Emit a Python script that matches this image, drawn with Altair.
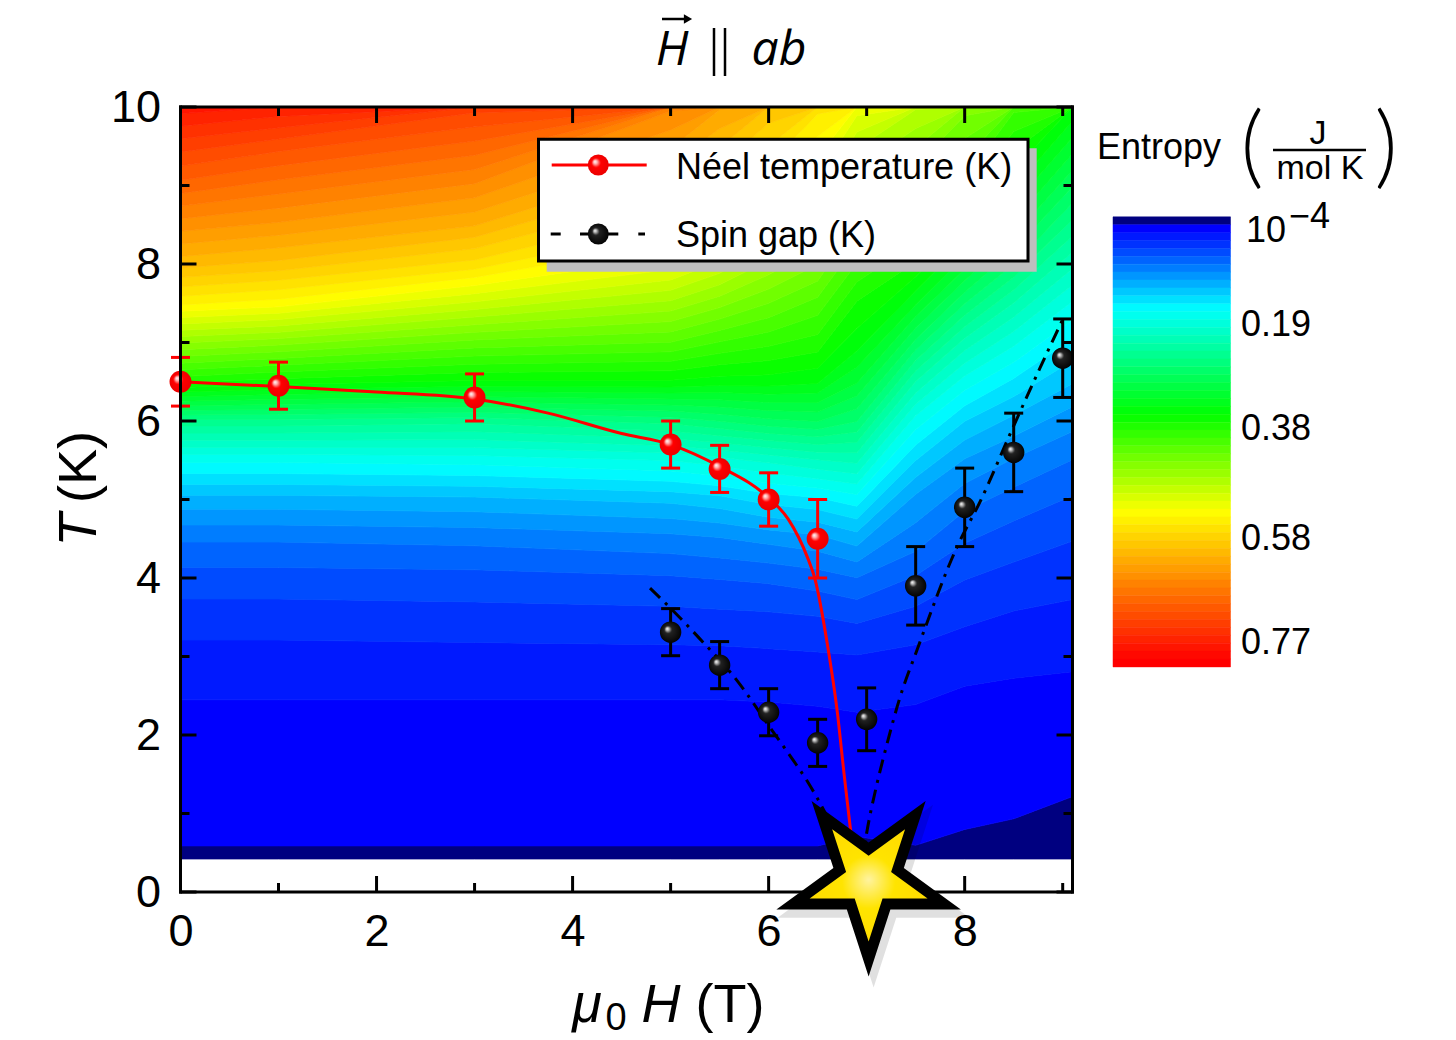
import numpy as np
import pandas as pd
import altair as alt

# ---------------- data ----------------
# Entropy map (J/mol K): one column per field value (T), rows at these temperatures (K)
field_H = [0, 1, 3, 5, 5.5, 6, 6.5, 6.9, 7.5, 8, 8.5, 9.1]
temp_T = [0.42, 0.6, 1.0, 1.5, 2.0, 2.5, 3.0, 3.5, 4.0, 4.5, 5.0,
          5.5, 6.0, 6.5, 7.0, 7.5, 8.0, 8.5, 9.0, 9.5, 10.0]

S_H0 = [0.004, 0.0152, 0.018, 0.0208, 0.0236, 0.0294, 0.0381, 0.0503, 0.066, 0.0883, 0.1241,
        0.1758, 0.2546, 0.3777, 0.4618, 0.551, 0.6107, 0.6555, 0.7003, 0.7402, 0.7851]
S_H1 = [0.004, 0.0152, 0.018, 0.0208, 0.0236, 0.0294, 0.0381, 0.0503, 0.066, 0.0883, 0.1241,
        0.1758, 0.2546, 0.3678, 0.4519, 0.541, 0.6007, 0.6455, 0.6854, 0.7253, 0.7751]
S_H3 = [0.004, 0.0152, 0.018, 0.0208, 0.0236, 0.0294, 0.0386, 0.0515, 0.0671, 0.0906, 0.1263,
        0.1787, 0.2496, 0.3579, 0.4272, 0.5014, 0.5709, 0.6206, 0.6605, 0.7003, 0.7402]
S_H5 = [0.004, 0.0152, 0.018, 0.0208, 0.0236, 0.0294, 0.0392, 0.0526, 0.0705, 0.0961, 0.1331,
        0.1876, 0.2644, 0.3579, 0.4173, 0.4717, 0.5261, 0.566, 0.6007, 0.6356, 0.6655]
S_H55 = [0.004, 0.0152, 0.018, 0.0208, 0.0236, 0.0294, 0.0392, 0.0537, 0.0727, 0.0995, 0.1386,
         0.1955, 0.2742, 0.353, 0.4024, 0.4519, 0.5014, 0.541, 0.5758, 0.6057, 0.6356]
S_H6 = [0.004, 0.0152, 0.018, 0.0208, 0.0241, 0.0297, 0.0403, 0.0548, 0.0749, 0.1051, 0.1498,
        0.2053, 0.2841, 0.353, 0.3926, 0.4321, 0.4717, 0.5113, 0.546, 0.5758, 0.6007]
S_H65 = [0.004, 0.0152, 0.018, 0.0208, 0.0247, 0.0303, 0.0414, 0.0571, 0.0794, 0.1107, 0.1554,
         0.2152, 0.289, 0.3481, 0.3827, 0.4123, 0.4469, 0.4816, 0.5113, 0.541, 0.566]
S_H69 = [0.003, 0.0135, 0.0169, 0.0202, 0.0252, 0.0314, 0.0425, 0.0604, 0.0861, 0.1219, 0.1659,
         0.2201, 0.2742, 0.3186, 0.353, 0.3728, 0.4024, 0.4321, 0.4618, 0.4915, 0.5261]
S_H75 = [0.002, 0.0148, 0.0157, 0.0191, 0.0236, 0.0303, 0.0392, 0.0526, 0.0705, 0.0939, 0.1107,
         0.1442, 0.1807, 0.23, 0.2841, 0.3333, 0.3728, 0.4024, 0.4321, 0.4618, 0.4915]
S_H8 = [0.001, 0.0115, 0.0174, 0.0191, 0.0213, 0.0269, 0.0347, 0.0459, 0.0582, 0.0738, 0.0917,
        0.114, 0.1442, 0.1807, 0.225, 0.2742, 0.3235, 0.3629, 0.3975, 0.4272, 0.4519]
S_H85 = [0.001, 0.008, 0.0157, 0.018, 0.0208, 0.0258, 0.0325, 0.0414, 0.0526, 0.0649, 0.0805,
         0.0995, 0.1252, 0.1554, 0.1905, 0.23, 0.2742, 0.3136, 0.3481, 0.3777, 0.4074]
S_H91 = [0.001, 0.005, 0.0125, 0.0169, 0.0202, 0.0247, 0.0314, 0.0392, 0.0481, 0.0582, 0.0705,
         0.0861, 0.1062, 0.1308, 0.1554, 0.1856, 0.2201, 0.2546, 0.289, 0.3235, 0.3579]
entropy_columns = [S_H0, S_H1, S_H3, S_H5, S_H55, S_H6, S_H65, S_H69, S_H75, S_H8, S_H85, S_H91]

# contour levels and colour map (colour bar)
level_step = 0.0144
n_levels = 57
cmap_stops = [0, 0.0144, 0.161, 0.353, 0.531, 0.80]
cmap_colors = ["#000080", "#0000FF", "#00FFFF", "#00FF00", "#FFFF00", "#FF0000"]
cbar_tick_S = [0.19, 0.38, 0.58, 0.77]
cbar_tick_text = ["0.19", "0.38", "0.58", "0.77"]
cbar_first_S = 0.0001

# Neel temperature
neel_H = [0, 1, 3, 5, 5.5, 6, 6.5]
neel_T = [6.50, 6.45, 6.30, 5.70, 5.39, 5.00, 4.50]
neel_err = [0.31, 0.30, 0.30, 0.30, 0.30, 0.34, 0.50]
neel_fit_H = [0, 1, 2, 3, 3.75, 4.5, 5.0, 5.5, 6.0, 6.2, 6.4, 6.47, 6.6, 6.7, 6.77, 6.83, 6.86]
neel_fit_T = [6.50, 6.44, 6.37, 6.28, 6.10, 5.84, 5.70, 5.42, 5.02, 4.75, 4.25, 4.0, 3.15, 2.3, 1.5, 0.85, 0.55]

# Spin gap
gap_H = [5, 5.5, 6, 6.5, 7, 7.5, 8, 8.5, 9]
gap_T = [3.31, 2.89, 2.29, 1.90, 2.20, 3.90, 4.90, 5.60, 6.80]
gap_err = [0.30, 0.30, 0.30, 0.30, 0.40, 0.50, 0.50, 0.50, 0.50]
gap_left_H = [4.79, 5.02, 5.28, 5.68, 6.04, 6.25, 6.39, 6.58, 6.75]
gap_left_T = [3.87, 3.59, 3.25, 2.69, 2.05, 1.68, 1.42, 1.0, 0.55]
gap_right_H = [6.95, 7.0, 7.1, 7.2, 7.34, 7.51, 7.92, 8.16, 8.49, 8.77, 9.01]
gap_right_T = [0.35, 0.75, 1.35, 1.85, 2.48, 3.07, 4.39, 4.98, 5.91, 6.68, 7.32]

# quantum critical point marker
star_H = [7.02]
star_T = [0.16]

# axis ticks
x_major = [0, 2, 4, 6, 8]
x_minor = [1, 3, 5, 7, 9]
y_major = [0, 2, 4, 6, 8, 10]
y_minor = [1, 3, 5, 7, 9]

# ---------------- build contour bands ----------------
levels = [k * level_step for k in range(n_levels)]


def crossing(col, level):
    if level <= col[0]:
        return temp_T[0]
    for i in range(1, len(temp_T)):
        if col[i] >= level:
            s0, s1 = col[i - 1], col[i]
            return temp_T[i - 1] + (level - s0) / (s1 - s0) * (temp_T[i] - temp_T[i - 1])
    return temp_T[-1]


band_rows = []
for k, L in enumerate(levels):
    rows = []
    for h, col in zip(field_H, entropy_columns):
        lo = temp_T[0] if k == 0 else crossing(col, L)
        hi = crossing(col, levels[k + 1]) if k + 1 < n_levels else temp_T[-1]
        rows.append(dict(H=h, lo=lo, hi=hi, level=L, band=k))
    if any(r["hi"] - r["lo"] > 1e-9 for r in rows):
        band_rows.extend(rows)
bands = pd.DataFrame(band_rows)

cbar = pd.DataFrame({"level": levels,
                     "lo": [L - level_step / 2 for L in levels],
                     "hi": [L + level_step / 2 for L in levels]})
cbar_labels = pd.DataFrame({"S": cbar_tick_S, "t": cbar_tick_text})
cbar_first = pd.DataFrame({"S": [cbar_first_S]})

neel = pd.DataFrame({"H": neel_H, "T": neel_T,
                     "lo": np.array(neel_T) - np.array(neel_err),
                     "hi": np.array(neel_T) + np.array(neel_err)})
gap = pd.DataFrame({"H": gap_H, "T": gap_T,
                    "lo": np.array(gap_T) - np.array(gap_err),
                    "hi": np.array(gap_T) + np.array(gap_err)})
neel_fit = pd.DataFrame({"H": neel_fit_H, "T": neel_fit_T})
gap_left = pd.DataFrame({"H": gap_left_H, "T": gap_left_T})
gap_right = pd.DataFrame({"H": gap_right_H, "T": gap_right_T})
star = pd.DataFrame({"H": star_H, "T": star_T})

# ---------------- layout constants ----------------
W, Hgt = 892, 785
OX, OY = 180.5, 107.0


def px(x):
    return x - OX


def py(y):
    return y - OY


FONT = "Liberation Sans"
xs = alt.Scale(domain=[0, 9.1], nice=False, zero=False)
ys = alt.Scale(domain=[0, 10], nice=False, zero=False)
cscale = alt.Scale(domain=cmap_stops, range=cmap_colors, interpolate="rgb", clamp=True)
x_axis = alt.Axis(values=x_major, title=None, ticks=False, tickSize=0, domain=False, grid=False,
                  labelFont=FONT, labelFontSize=45, labelColor="black", labelPadding=17,
                  labelFlush=False, labelOverlap=False)
y_axis = alt.Axis(values=y_major, title=None, ticks=False, tickSize=0, domain=False, grid=False,
                  labelFont=FONT, labelFontSize=45, labelColor="black", labelPadding=20,
                  labelFlush=False, labelOverlap=False)


def X(f):
    return alt.X(f + ":Q", scale=xs, axis=x_axis)


def Y(f):
    return alt.Y(f + ":Q", scale=ys, axis=y_axis)


one = pd.DataFrame({"z": [0]})


def txt(s, x, y, size, font=FONT, style="normal", align="center", baseline="alphabetic", angle=0, weight="normal"):
    return alt.Chart(one).mark_text(text=s, font=font, fontSize=size, fontStyle=style, fontWeight=weight,
                                    align=align, baseline=baseline, angle=angle, color="black").encode(
        x=alt.value(x), y=alt.value(y))


def hrule(x1, x2, y, w=3, color="black"):
    return alt.Chart(one).mark_rule(strokeWidth=w, color=color).encode(
        x=alt.value(x1), x2=alt.value(x2), y=alt.value(y))


def vrule(x, y1, y2, w=3, color="black", cap="butt"):
    return alt.Chart(one).mark_rule(strokeWidth=w, color=color, strokeCap=cap).encode(
        x=alt.value(x), y=alt.value(y1), y2=alt.value(y2))


red_ball = {"gradient": "radial", "x1": 0.33, "y1": 0.33, "r1": 0, "x2": 0.5, "y2": 0.5, "r2": 0.55,
            "stops": [{"offset": 0, "color": "#ffffff"}, {"offset": 0.16, "color": "#ffb4b4"},
                      {"offset": 0.4, "color": "#ff0000"}, {"offset": 1, "color": "#e80000"}]}
black_ball = {"gradient": "radial", "x1": 0.33, "y1": 0.33, "r1": 0, "x2": 0.5, "y2": 0.5, "r2": 0.55,
              "stops": [{"offset": 0, "color": "#ffffff"}, {"offset": 0.12, "color": "#c0c0c0"},
                        {"offset": 0.32, "color": "#222222"}, {"offset": 1, "color": "#000000"}]}
yellow_fill = {"gradient": "radial", "x1": 0.5, "y1": 0.45, "r1": 0, "x2": 0.5, "y2": 0.5, "r2": 0.5,
               "stops": [{"offset": 0, "color": "#fff3a0"}, {"offset": 0.45, "color": "#ffe400"},
                         {"offset": 1, "color": "#ffdc00"}]}
STAR = ("M0,1L-0.2245,0.309L-0.951,0.309L-0.363,-0.118L-0.588,-0.809L0,-0.382"
        "L0.588,-0.809L0.363,-0.118L0.951,0.309L0.2245,0.309Z")

# ---------------- main plot layers ----------------
contour = alt.Chart(bands).mark_area(clip=True, strokeWidth=0.7, interpolate="linear").encode(
    x=X("H"), y=Y("lo"), y2=alt.Y2("hi"),
    color=alt.Color("level:Q", scale=cscale, legend=None),
    stroke=alt.Stroke("level:Q", scale=cscale, legend=None),
    detail="band:N",
)

neel_line = alt.Chart(neel_fit).mark_line(color="#ff0000", strokeWidth=3, interpolate="monotone", clip=True).encode(
    x=X("H"), y=Y("T"))
dash = [14, 7, 3, 7]
gap_l = alt.Chart(gap_left).mark_line(color="black", strokeWidth=3, strokeDash=dash, interpolate="monotone").encode(
    x=X("H"), y=Y("T"))
gap_r = alt.Chart(gap_right).mark_line(color="black", strokeWidth=3, strokeDash=dash, interpolate="monotone").encode(
    x=X("H"), y=Y("T"))


def errorbars(df, color):
    bar = alt.Chart(df).mark_rule(color=color, strokeWidth=3).encode(x=X("H"), y=Y("lo"), y2=alt.Y2("hi"))
    cap_lo = alt.Chart(df).mark_tick(color=color, orient="horizontal", size=19, thickness=3, opacity=1).encode(
        x=X("H"), y=Y("lo"))
    cap_hi = alt.Chart(df).mark_tick(color=color, orient="horizontal", size=19, thickness=3, opacity=1).encode(
        x=X("H"), y=Y("hi"))
    return [bar, cap_lo, cap_hi]


neel_pts = alt.Chart(neel).mark_point(shape="circle", size=480, filled=True, fill=red_ball, strokeWidth=0,
                                      opacity=1).encode(x=X("H"), y=Y("T"))
gap_pts = alt.Chart(gap).mark_point(shape="circle", size=460, filled=True, fill=black_ball, strokeWidth=0,
                                    opacity=1).encode(x=X("H"), y=Y("T"))

# frame and inward ticks
frame = [vrule(0, 0, Hgt, cap="square"), vrule(W, 0, Hgt, cap="square"),
         alt.Chart(one).mark_rule(strokeWidth=3, color="black", strokeCap="square").encode(
             x=alt.value(0), x2=alt.value(W), y=alt.value(0)),
         alt.Chart(one).mark_rule(strokeWidth=3, color="black", strokeCap="square").encode(
             x=alt.value(0), x2=alt.value(W), y=alt.value(Hgt))]


def xticks(vals, length):
    d = pd.DataFrame({"H": vals})
    b = alt.Chart(d).mark_rule(strokeWidth=3, color="black").encode(
        x=X("H"), y=alt.value(Hgt), y2=alt.value(Hgt - length))
    t = alt.Chart(d).mark_rule(strokeWidth=3, color="black").encode(
        x=X("H"), y=alt.value(0), y2=alt.value(length))
    return [b, t]


def yticks(vals, length):
    d = pd.DataFrame({"T": vals})
    l = alt.Chart(d).mark_rule(strokeWidth=3, color="black").encode(
        y=Y("T"), x=alt.value(0), x2=alt.value(length))
    r = alt.Chart(d).mark_rule(strokeWidth=3, color="black").encode(
        y=Y("T"), x=alt.value(W), x2=alt.value(W - length))
    return [l, r]


ticks = xticks(x_major, 16) + xticks(x_minor, 9) + yticks(y_major, 16) + yticks(y_minor, 9)

# legend box
legend = [
    alt.Chart(one).mark_rect(color="#bebebe").encode(
        x=alt.value(px(546.7)), x2=alt.value(px(1036.7)), y=alt.value(py(148.3)), y2=alt.value(py(271.7))),
    alt.Chart(one).mark_rect(fill="white", stroke="black", strokeWidth=3).encode(
        x=alt.value(px(538.5)), x2=alt.value(px(1028)), y=alt.value(py(139.3)), y2=alt.value(py(261))),
    hrule(px(551.7), px(646.7), py(165), w=3, color="#ff0000"),
    alt.Chart(one).mark_point(shape="circle", size=440, filled=True, fill=red_ball, strokeWidth=0, opacity=1).encode(
        x=alt.value(px(598.3)), y=alt.value(py(165))),
    hrule(px(550.7), px(560.7), py(234)),
    hrule(px(580), px(618.3), py(234)),
    hrule(px(638.3), px(645), py(234)),
    alt.Chart(one).mark_point(shape="circle", size=440, filled=True, fill=black_ball, strokeWidth=0, opacity=1).encode(
        x=alt.value(px(598.3)), y=alt.value(py(234))),
    txt("Néel temperature (K)", px(676), py(178.5), 36, align="left"),
    txt("Spin gap (K)", px(676), py(246.5), 36, align="left"),
]

# star marker
star_layers = [
    alt.Chart(star).mark_point(shape=STAR, size=(2 * 101) ** 2, filled=True, fill="#000000", opacity=0.12,
                               strokeWidth=0, xOffset=5, yOffset=7).encode(x=X("H"), y=Y("T")),
    alt.Chart(star).mark_point(shape=STAR, size=(2 * 97) ** 2, filled=True, fill="#000000", opacity=1,
                               strokeWidth=0).encode(x=X("H"), y=Y("T")),
    alt.Chart(star).mark_point(shape=STAR, size=(2 * 62) ** 2, filled=True, fill=yellow_fill, opacity=1,
                               strokeWidth=0).encode(x=X("H"), y=Y("T")),
]

# titles
titles = [
    # top title  H-vector || ab
    txt("H", px(672), py(65), 48, font="Open Sans", style="italic"),
    hrule(px(662), px(686), py(19), w=2.5),
    alt.Chart(one).mark_point(shape="triangle-right", size=90, filled=True, color="black", opacity=1,
                              strokeWidth=0).encode(x=alt.value(px(688)), y=alt.value(py(19))),
    vrule(px(714), py(28), py(76), w=2.5),
    vrule(px(725), py(28), py(76), w=2.5),
    txt("ab", px(779), py(65), 48, font="Open Sans", style="italic"),
    # x title  mu0 H (T)
    txt("μ", px(587), py(1022), 54, style="italic"),
    txt("0", px(616), py(1030), 38),
    txt("H", px(661), py(1022), 54, style="italic"),
    txt("(T)", px(730), py(1022), 54),
    # y title  T (K)
    txt("T", px(80), py(530), 54, style="italic", baseline="middle", angle=270),
    txt("(K)", px(80), py(467), 54, baseline="middle", angle=270),
    # colour bar title
    txt("Entropy", px(1159), py(159), 36),
    txt("(", px(1252), py(150), 90, font="Lato", weight=300, baseline="middle"),
    txt("J", px(1318), py(144), 34),
    hrule(px(1273), px(1366), py(150), w=2.5),
    txt("mol K", px(1320), py(179), 34),
    txt(")", px(1386), py(150), 90, font="Lato", weight=300, baseline="middle"),
]

main = alt.layer(contour, neel_line, gap_l, gap_r, *errorbars(neel, "#ff0000"), *errorbars(gap, "black"),
                 neel_pts, gap_pts, *frame, *ticks, *legend, *star_layers, *titles)

# ---------------- colour bar (own y scale in entropy units) ----------------
cb_scale = alt.Scale(domain=[-0.20755, 1.22415], reverse=True, nice=False, zero=False)
cb_rects = alt.Chart(cbar).mark_rect(strokeWidth=0.5).encode(
    x=alt.value(px(1113)), x2=alt.value(px(1230.5)),
    y=alt.Y("lo:Q", scale=cb_scale, axis=None), y2=alt.Y2("hi"),
    color=alt.Color("level:Q", scale=cscale, legend=None),
    stroke=alt.Stroke("level:Q", scale=cscale, legend=None),
)
cb_text = alt.Chart(cbar_labels).mark_text(font=FONT, fontSize=36, align="left", baseline="middle",
                                           color="black").encode(
    x=alt.value(px(1241)), y=alt.Y("S:Q", scale=cb_scale, axis=None), text="t:N")
cb_first_10 = alt.Chart(cbar_first).mark_text(text="10", font=FONT, fontSize=36, align="left", baseline="middle",
                                              dy=10, color="black").encode(
    x=alt.value(px(1246)), y=alt.Y("S:Q", scale=cb_scale, axis=None))
cb_first_exp = alt.Chart(cbar_first).mark_text(text="−4", font=FONT, fontSize=36, align="left", baseline="middle",
                                               dy=-4, color="black").encode(
    x=alt.value(px(1289)), y=alt.Y("S:Q", scale=cb_scale, axis=None))
colorbar = alt.layer(cb_rects, cb_text, cb_first_10, cb_first_exp)

chart = alt.layer(main, colorbar).resolve_scale(y="independent").properties(
    width=W, height=Hgt,
    autosize=alt.AutoSizeParams(type="none"),
    padding={"left": OX, "top": OY, "right": 1456 - OX - W, "bottom": 1040 - OY - Hgt},
).configure_view(stroke=None).configure(background="white")

chart.save("out.html", embed_options={"renderer": "svg", "actions": False})
